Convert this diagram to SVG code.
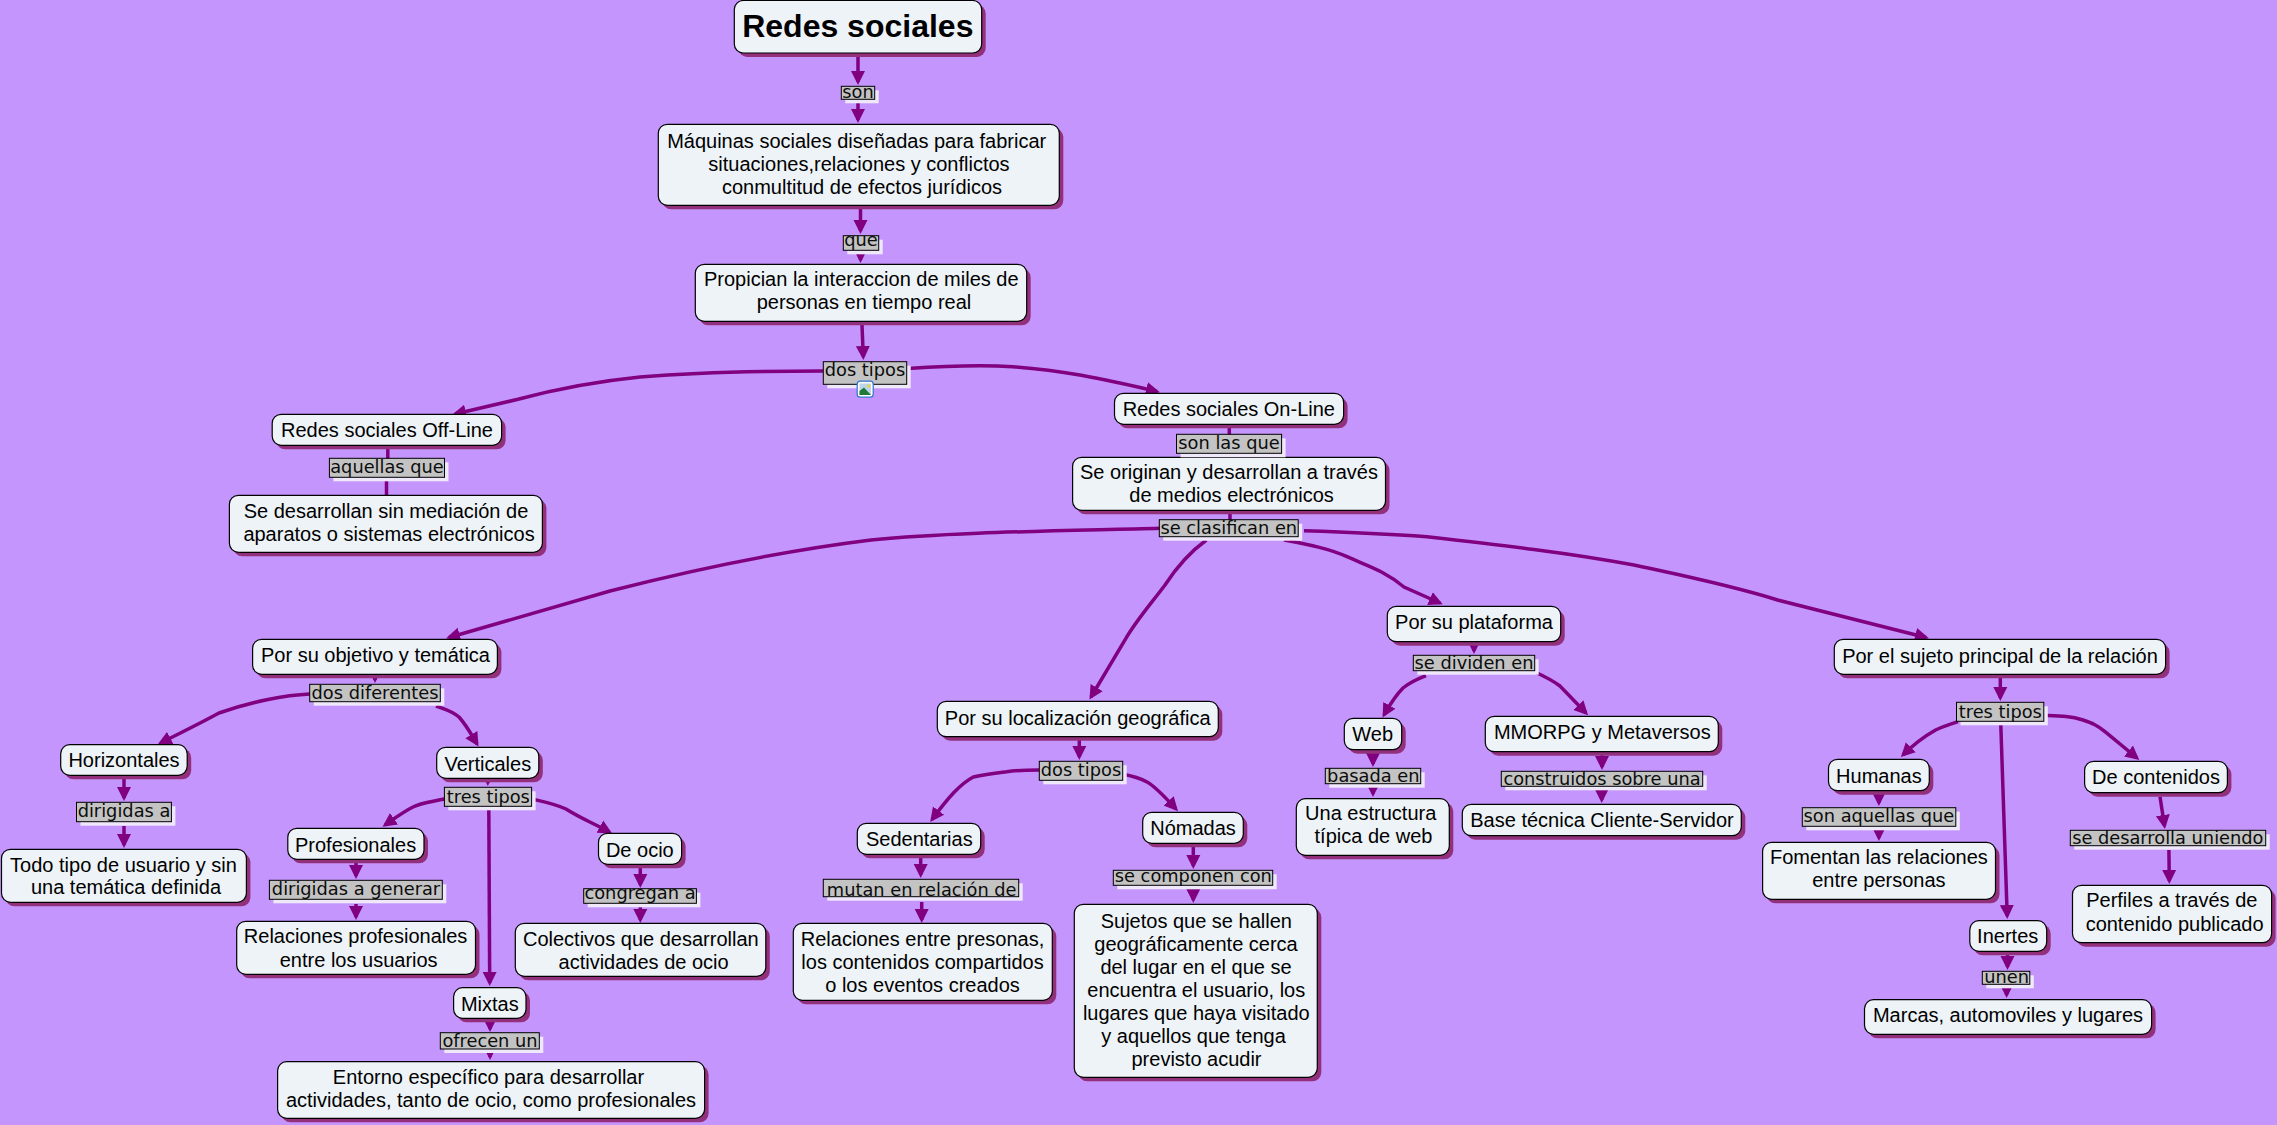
<svg xmlns="http://www.w3.org/2000/svg" width="2277" height="1125" viewBox="0 0 2277 1125">
<style>
.n{fill:#edf3f6;stroke:#000;stroke-width:1.2}
.s{fill:#93307c}
.t{font-family:"Liberation Sans",Arial,sans-serif;font-size:20px;fill:#000;text-anchor:middle}
.b{font-family:"Liberation Sans",Arial,sans-serif;font-size:32px;font-weight:bold;fill:#000;text-anchor:middle}
.ls{fill:#efe8fb}
.lb{fill:#c3c3c3;stroke:#000;stroke-width:1}
.l{font-family:"DejaVu Sans",Verdana,sans-serif;font-size:17.8px;fill:#0c0c0c;text-anchor:middle}
.c{fill:none;stroke:#800080;stroke-width:3.5}
.ar{marker-end:url(#a)}
</style>
<defs>
<marker id="a" markerUnits="userSpaceOnUse" markerWidth="16" markerHeight="16" refX="11" refY="8" orient="auto"><path d="M0,1 L14,8 L0,15 Z" fill="#800080"/></marker>
</defs>
<rect width="2277" height="1125" fill="#c495fd"/>
<g id="connectors">
<path class="c ar" d="M858,57V82"/><path class="c ar" d="M858,103V120"/>
<path class="c ar" d="M860.5,209V231"/><path class="c ar" d="M860.5,250V260"/>
<path class="c ar" d="M862,325L863.3,357"/>
<path class="c ar" d="M823,371C760,371 690,373 640,377C590,382 545,392 518,399.3L455,414"/>
<path class="c ar" d="M908,368.5C945,366 985,365 1013,366.7C1060,370 1100,378 1157,391.5"/>
<path class="c" d="M387.8,445V459"/><path class="c" d="M386.5,480V496"/>
<path class="c" d="M1229.3,424V435"/><path class="c" d="M1230,510V520"/>
<path class="c ar" d="M1160,528.3C1060,531 950,532 871,540C790,550 700,568 610,591L449,637.5"/>
<path class="c ar" d="M1206.4,540C1190,552 1178,565 1165,585C1150,605 1135,622 1125,640L1091,697"/>
<path class="c ar" d="M1284,540C1305,544 1328,548 1347,556.7C1368,566 1385,571 1404,587L1440,603"/>
<path class="c ar" d="M1304,530.7C1345,532 1390,534 1427,536.7C1500,545 1570,553 1634,565C1680,575 1730,585 1777.6,600L1926,637.5"/>
<path class="c ar" d="M375,675V680"/>
<path class="c ar" d="M310,694C285,695 250,702 219,713C197,725 180,733 160.5,743"/>
<path class="c ar" d="M436,706C447,710 452,711 459,717C467,726 471,734 477,744"/>
<path class="c ar" d="M124,779V798"/><path class="c ar" d="M124,826V845"/>
<path class="c ar" d="M487.8,779V783"/>
<path class="c ar" d="M444.4,799C430,802 420,803 413,807C403,812 395,818 385,825"/>
<path class="c ar" d="M532,799C545,802 555,804 566,809C580,818 595,824 609.5,832"/>
<path class="c ar" d="M488.8,806L489.7,983"/>
<path class="c ar" d="M356,863V876"/><path class="c ar" d="M356,904V917"/>
<path class="c ar" d="M640.3,868V885"/><path class="c ar" d="M640.3,905V920"/>
<path class="c ar" d="M490,1020V1029"/><path class="c ar" d="M490,1050V1057"/>
<path class="c ar" d="M1079.3,740V757"/>
<path class="c ar" d="M1039,770C1025,770 1015,770.5 1006.7,771.7C995,773 985,774 973.3,777C960,784 948,798 932,819.5"/>
<path class="c ar" d="M1122,774C1133,776 1140,778 1147,782C1155,786 1165,797 1176,809"/>
<path class="c ar" d="M920.7,858V875"/><path class="c ar" d="M921.7,902V920"/>
<path class="c ar" d="M1193.3,847V866"/><path class="c ar" d="M1193.3,886V900"/>
<path class="c ar" d="M1474,644V651"/>
<path class="c ar" d="M1426,675.7C1415,680 1408,684 1403,688C1398,693 1393,699 1384,715"/>
<path class="c ar" d="M1535,672C1548,678 1552,680 1560,686L1586,713"/>
<path class="c ar" d="M1373,752V764"/><path class="c ar" d="M1373,786V794"/>
<path class="c ar" d="M1602,754V767"/><path class="c ar" d="M1601.7,790V800"/>
<path class="c ar" d="M2000.3,678V698"/>
<path class="c ar" d="M1958,721.7C1948,725 1942,727 1935.6,730C1925,736 1915,743 1903,755"/>
<path class="c ar" d="M2044,715.5C2060,716 2070,716 2083,720C2092,723 2097,725 2105,731.7L2137,758"/>
<path class="c ar" d="M2000.7,722L2007.2,916"/>
<path class="c ar" d="M1878.9,793V803"/><path class="c ar" d="M1878.9,828V838"/>
<path class="c ar" d="M2160,796.7L2164.5,826"/><path class="c ar" d="M2168.9,850L2169.3,881"/>
<path class="c ar" d="M2007.5,955V967"/><path class="c ar" d="M2006.6,986V995"/>
</g>
<g id="root"><rect class="s" x="738.3" y="4.5" width="247.4" height="52.5" rx="9"/><rect class="n" x="734.3" y="0.5" width="247.4" height="52.5" rx="9"/><text class="b" x="857.8" y="37.3">Redes sociales</text></g>
<g id="maquinas"><rect class="s" x="662.3" y="128.3" width="401" height="81" rx="9"/><rect class="n" x="658.3" y="124.3" width="401" height="81" rx="9"/><text class="t" x="856.7" y="147.7">Máquinas sociales diseñadas para fabricar</text><text class="t" x="859" y="171">situaciones,relaciones y conflictos</text><text class="t" x="862" y="194">conmultitud de efectos jurídicos</text></g>
<g id="propician"><rect class="s" x="699.3" y="268.3" width="331.4" height="57" rx="9"/><rect class="n" x="695.3" y="264.3" width="331.4" height="57" rx="9"/><text class="t" x="861.3" y="286">Propician la interaccion de miles de</text><text class="t" x="864" y="309.3">personas en tiempo real</text></g>
<g id="offline"><rect class="s" x="276.2" y="418.3" width="229.4" height="31" rx="9"/><rect class="n" x="272.2" y="414.3" width="229.4" height="31" rx="9"/><text class="t" x="387" y="437.3">Redes sociales Off-Line</text></g>
<g id="online"><rect class="s" x="1118.5" y="397.3" width="229.1" height="31" rx="9"/><rect class="n" x="1114.5" y="393.3" width="229.1" height="31" rx="9"/><text class="t" x="1228.8" y="416">Redes sociales On-Line</text></g>
<g id="sin-mediacion"><rect class="s" x="233.4" y="499.3" width="313" height="57" rx="9"/><rect class="n" x="229.4" y="495.3" width="313" height="57" rx="9"/><text class="t" x="386" y="517.7">Se desarrollan sin mediación de</text><text class="t" x="389" y="540.7">aparatos o sistemas electrónicos</text></g>
<g id="originan"><rect class="s" x="1076.6" y="461.3" width="312.9" height="53" rx="9"/><rect class="n" x="1072.6" y="457.3" width="312.9" height="53" rx="9"/><text class="t" x="1229" y="479.3">Se originan y desarrollan a través</text><text class="t" x="1231.6" y="502.3">de medios electrónicos</text></g>
<g id="objetivo"><rect class="s" x="256.6" y="643.3" width="244.8" height="35" rx="9"/><rect class="n" x="252.6" y="639.3" width="244.8" height="35" rx="9"/><text class="t" x="375.5" y="662.3">Por su objetivo y temática</text></g>
<g id="localizacion"><rect class="s" x="941.3" y="705.3" width="281" height="35.4" rx="9"/><rect class="n" x="937.3" y="701.3" width="281" height="35.4" rx="9"/><text class="t" x="1077.7" y="725">Por su localización geográfica</text></g>
<g id="plataforma"><rect class="s" x="1391.3" y="610.3" width="173.4" height="35.4" rx="9"/><rect class="n" x="1387.3" y="606.3" width="173.4" height="35.4" rx="9"/><text class="t" x="1474" y="629.3">Por su plataforma</text></g>
<g id="sujeto"><rect class="s" x="1838.3" y="643.3" width="331.3" height="35" rx="9"/><rect class="n" x="1834.3" y="639.3" width="331.3" height="35" rx="9"/><text class="t" x="2000" y="662.7">Por el sujeto principal de la relación</text></g>
<g id="horizontales"><rect class="s" x="64.7" y="748.7" width="126.5" height="30.6" rx="9"/><rect class="n" x="60.7" y="744.7" width="126.5" height="30.6" rx="9"/><text class="t" x="124" y="767.3">Horizontales</text></g>
<g id="todo-tipo"><rect class="s" x="5.5" y="853.3" width="244.9" height="53" rx="9"/><rect class="n" x="1.5" y="849.3" width="244.9" height="53" rx="9"/><text class="t" x="123.5" y="871.7">Todo tipo de usuario y sin</text><text class="t" x="126" y="894.3">una temática definida</text></g>
<g id="verticales"><rect class="s" x="440.7" y="751.3" width="102.1" height="31" rx="9"/><rect class="n" x="436.7" y="747.3" width="102.1" height="31" rx="9"/><text class="t" x="487.8" y="770.7">Verticales</text></g>
<g id="profesionales"><rect class="s" x="291.8" y="832.3" width="136.2" height="31" rx="9"/><rect class="n" x="287.8" y="828.3" width="136.2" height="31" rx="9"/><text class="t" x="355.6" y="851.7">Profesionales</text></g>
<g id="relaciones-prof"><rect class="s" x="240.7" y="925.3" width="238.8" height="53" rx="9"/><rect class="n" x="236.7" y="921.3" width="238.8" height="53" rx="9"/><text class="t" x="355.6" y="943.3">Relaciones profesionales</text><text class="t" x="358.7" y="966.7">entre los usuarios</text></g>
<g id="de-ocio"><rect class="s" x="602.5" y="837.3" width="83.1" height="31" rx="9"/><rect class="n" x="598.5" y="833.3" width="83.1" height="31" rx="9"/><text class="t" x="639.8" y="856.7">De ocio</text></g>
<g id="colectivos"><rect class="s" x="519.3" y="927.3" width="250.5" height="53" rx="9"/><rect class="n" x="515.3" y="923.3" width="250.5" height="53" rx="9"/><text class="t" x="640.8" y="945.7">Colectivos que desarrollan</text><text class="t" x="643.6" y="968.7">actividades de ocio</text></g>
<g id="mixtas"><rect class="s" x="457.6" y="991.7" width="72.4" height="30.6" rx="9"/><rect class="n" x="453.6" y="987.7" width="72.4" height="30.6" rx="9"/><text class="t" x="489.8" y="1010.7">Mixtas</text></g>
<g id="entorno"><rect class="s" x="281.6" y="1065.7" width="427" height="56.6" rx="9"/><rect class="n" x="277.6" y="1061.7" width="427" height="56.6" rx="9"/><text class="t" x="488.5" y="1083.7">Entorno específico para desarrollar</text><text class="t" x="491" y="1107">actividades, tanto de ocio, como profesionales</text></g>
<g id="sedentarias"><rect class="s" x="861.3" y="827.3" width="123.4" height="31" rx="9"/><rect class="n" x="857.3" y="823.3" width="123.4" height="31" rx="9"/><text class="t" x="919.3" y="845.7">Sedentarias</text></g>
<g id="relaciones-ent"><rect class="s" x="797.3" y="927.3" width="259" height="77" rx="9"/><rect class="n" x="793.3" y="923.3" width="259" height="77" rx="9"/><text class="t" x="922.5" y="946">Relaciones entre presonas,</text><text class="t" x="922.5" y="969">los contenidos compartidos</text><text class="t" x="922.5" y="992">o los eventos creados</text></g>
<g id="nomadas"><rect class="s" x="1146.7" y="816.3" width="100.6" height="31" rx="9"/><rect class="n" x="1142.7" y="812.3" width="100.6" height="31" rx="9"/><text class="t" x="1193" y="835">Nómadas</text></g>
<g id="sujetos-geo"><rect class="s" x="1078.3" y="908.3" width="243" height="173" rx="9"/><rect class="n" x="1074.3" y="904.3" width="243" height="173" rx="9"/><text class="t" x="1196.3" y="927.7">Sujetos que se hallen</text><text class="t" x="1196" y="950.7">geográficamente cerca</text><text class="t" x="1196" y="973.7">del lugar en el que se</text><text class="t" x="1196.3" y="996.7">encuentra el usuario, los</text><text class="t" x="1196.3" y="1019.7">lugares que haya visitado</text><text class="t" x="1193.5" y="1042.7">y aquellos que tenga</text><text class="t" x="1196.5" y="1065.7">previsto acudir</text></g>
<g id="web"><rect class="s" x="1348.3" y="722.3" width="57.4" height="31.4" rx="9"/><rect class="n" x="1344.3" y="718.3" width="57.4" height="31.4" rx="9"/><text class="t" x="1372.7" y="741">Web</text></g>
<g id="estructura"><rect class="s" x="1300.3" y="802.7" width="153" height="56.6" rx="9"/><rect class="n" x="1296.3" y="798.7" width="153" height="56.6" rx="9"/><text class="t" x="1370.7" y="820">Una estructura</text><text class="t" x="1373.5" y="843.3">típica de web</text></g>
<g id="mmorpg"><rect class="s" x="1489.3" y="720.3" width="233" height="35.4" rx="9"/><rect class="n" x="1485.3" y="716.3" width="233" height="35.4" rx="9"/><text class="t" x="1602.3" y="739.3">MMORPG y Metaversos</text></g>
<g id="base-tecnica"><rect class="s" x="1466.3" y="808.3" width="279" height="31.4" rx="9"/><rect class="n" x="1462.3" y="804.3" width="279" height="31.4" rx="9"/><text class="t" x="1602" y="827.3">Base técnica Cliente-Servidor</text></g>
<g id="humanas"><rect class="s" x="1832.5" y="763.3" width="100.8" height="31.4" rx="9"/><rect class="n" x="1828.5" y="759.3" width="100.8" height="31.4" rx="9"/><text class="t" x="1878.9" y="782.7">Humanas</text></g>
<g id="fomentan"><rect class="s" x="1766.6" y="846.3" width="232.9" height="57" rx="9"/><rect class="n" x="1762.6" y="842.3" width="232.9" height="57" rx="9"/><text class="t" x="1878.9" y="864.3">Fomentan las relaciones</text><text class="t" x="1878.9" y="887.3">entre personas</text></g>
<g id="inertes"><rect class="s" x="1973.8" y="924.7" width="76.9" height="30.6" rx="9"/><rect class="n" x="1969.8" y="920.7" width="76.9" height="30.6" rx="9"/><text class="t" x="2007.7" y="943.3">Inertes</text></g>
<g id="marcas"><rect class="s" x="1868.5" y="1003.7" width="287.1" height="34.6" rx="9"/><rect class="n" x="1864.5" y="999.7" width="287.1" height="34.6" rx="9"/><text class="t" x="2008" y="1022.3">Marcas, automoviles y lugares</text></g>
<g id="de-contenidos"><rect class="s" x="2088.6" y="765.3" width="142.8" height="31.4" rx="9"/><rect class="n" x="2084.6" y="761.3" width="142.8" height="31.4" rx="9"/><text class="t" x="2156" y="784">De contenidos</text></g>
<g id="perfiles"><rect class="s" x="2076.5" y="889.3" width="199.1" height="57.4" rx="9"/><rect class="n" x="2072.5" y="885.3" width="199.1" height="57.4" rx="9"/><text class="t" x="2171.8" y="907.3">Perfiles a través de</text><text class="t" x="2174.6" y="930.7">contenido publicado</text></g>

<g id="l-son"><rect class="ls" x="845.3" y="90.3" width="33.4" height="13"/><rect class="lb" x="841.3" y="86.3" width="33.4" height="13"/><text class="l" x="858" y="97.7">son</text></g>
<g id="l-que"><rect class="ls" x="847.3" y="239.7" width="35.4" height="14.6"/><rect class="lb" x="843.3" y="235.7" width="35.4" height="14.6"/><text class="l" x="861" y="245.7">que</text></g>
<g id="l-dos-tipos"><rect class="ls" x="827.3" y="365.7" width="83.4" height="22.6"/><rect class="lb" x="823.3" y="361.7" width="83.4" height="22.6"/><text class="l" x="865" y="375.7">dos tipos</text>
<rect x="857.2" y="381.2" width="16" height="16" rx="3" fill="#fff" stroke="#2f74d0" stroke-width="1.2"/><rect x="859.5" y="383.5" width="11.5" height="11.5" fill="#bcd6ee"/><circle cx="868.5" cy="386" r="1.8" fill="#e8d44a"/><path d="M859.5,395L859.5,391L864,387.5L871,395Z" fill="#1f7a3a"/></g>
<g id="l-aquellas"><rect class="ls" x="333.4" y="462.3" width="115.1" height="19"/><rect class="lb" x="329.4" y="458.3" width="115.1" height="19"/><text class="l" x="387" y="472.7">aquellas que</text></g>
<g id="l-son-las"><rect class="ls" x="1180.5" y="438.3" width="105.1" height="19"/><rect class="lb" x="1176.5" y="434.3" width="105.1" height="19"/><text class="l" x="1229" y="448.7">son las que</text></g>
<g id="l-clasifican"><rect class="ls" x="1163.3" y="523.7" width="138.9" height="17"/><rect class="lb" x="1159.3" y="519.7" width="138.9" height="17"/><text class="l" x="1228.8" y="534.3">se clasifican en</text></g>
<g id="l-dos-dif"><rect class="ls" x="313.7" y="688.3" width="130.6" height="17.4"/><rect class="lb" x="309.7" y="684.3" width="130.6" height="17.4"/><text class="l" x="375" y="699.3">dos diferentes</text></g>
<g id="l-dirigidas"><rect class="ls" x="80.5" y="806.3" width="94.9" height="19.4"/><rect class="lb" x="76.5" y="802.3" width="94.9" height="19.4"/><text class="l" x="124" y="816.7">dirigidas a</text></g>
<g id="l-tres1"><rect class="ls" x="448.4" y="791.3" width="87.2" height="19"/><rect class="lb" x="444.4" y="787.3" width="87.2" height="19"/><text class="l" x="488.3" y="802.7">tres tipos</text></g>
<g id="l-generar"><rect class="ls" x="273.4" y="884.3" width="172.9" height="19"/><rect class="lb" x="269.4" y="880.3" width="172.9" height="19"/><text class="l" x="356" y="895">dirigidas a generar</text></g>
<g id="l-congregan"><rect class="ls" x="587.7" y="892.7" width="112.7" height="14.6"/><rect class="lb" x="583.7" y="888.7" width="112.7" height="14.6"/><text class="l" x="640" y="899.3">congregan a</text></g>
<g id="l-ofrecen"><rect class="ls" x="444.3" y="1036.7" width="99" height="16.3"/><rect class="lb" x="440.3" y="1032.7" width="99" height="16.3"/><text class="l" x="490" y="1047.3">ofrecen un</text></g>
<g id="l-dos2"><rect class="ls" x="1043.3" y="765.3" width="83.4" height="19"/><rect class="lb" x="1039.3" y="761.3" width="83.4" height="19"/><text class="l" x="1081" y="776">dos tipos</text></g>
<g id="l-mutan"><rect class="ls" x="827.3" y="883.3" width="195.4" height="17.4"/><rect class="lb" x="823.3" y="879.3" width="195.4" height="17.4"/><text class="l" x="921.7" y="895.7">mutan en relación de</text></g>
<g id="l-componen"><rect class="ls" x="1117.3" y="874.3" width="159.4" height="15"/><rect class="lb" x="1113.3" y="870.3" width="159.4" height="15"/><text class="l" x="1193.3" y="881.7">se componen con</text></g>
<g id="l-dividen"><rect class="ls" x="1417.3" y="659.3" width="121.4" height="15.4"/><rect class="lb" x="1413.3" y="655.3" width="121.4" height="15.4"/><text class="l" x="1474" y="669.3">se dividen en</text></g>
<g id="l-basada"><rect class="ls" x="1329.3" y="772.3" width="95.4" height="15.4"/><rect class="lb" x="1325.3" y="768.3" width="95.4" height="15.4"/><text class="l" x="1373.3" y="782.3">basada en</text></g>
<g id="l-construidos"><rect class="ls" x="1505.3" y="775.3" width="201.4" height="15"/><rect class="lb" x="1501.3" y="771.3" width="201.4" height="15"/><text class="l" x="1602" y="785">construidos sobre una</text></g>
<g id="l-tres2"><rect class="ls" x="1960.5" y="706.3" width="87.3" height="19"/><rect class="lb" x="1956.5" y="702.3" width="87.3" height="19"/><text class="l" x="2000.3" y="717.7">tres tipos</text></g>
<g id="l-aquellas2"><rect class="ls" x="1806.3" y="811.7" width="153.5" height="18.6"/><rect class="lb" x="1802.3" y="807.7" width="153.5" height="18.6"/><text class="l" x="1878.9" y="822">son aquellas que</text></g>
<g id="l-uniendo"><rect class="ls" x="2074.3" y="834.3" width="195.4" height="15.4"/><rect class="lb" x="2070.3" y="830.3" width="195.4" height="15.4"/><text class="l" x="2167.8" y="844.3">se desarrolla uniendo</text></g>
<g id="l-unen"><rect class="ls" x="1986.3" y="975.3" width="47.5" height="13"/><rect class="lb" x="1982.3" y="971.3" width="47.5" height="13"/><text class="l" x="2006.6" y="983">unen</text></g>
</svg>
